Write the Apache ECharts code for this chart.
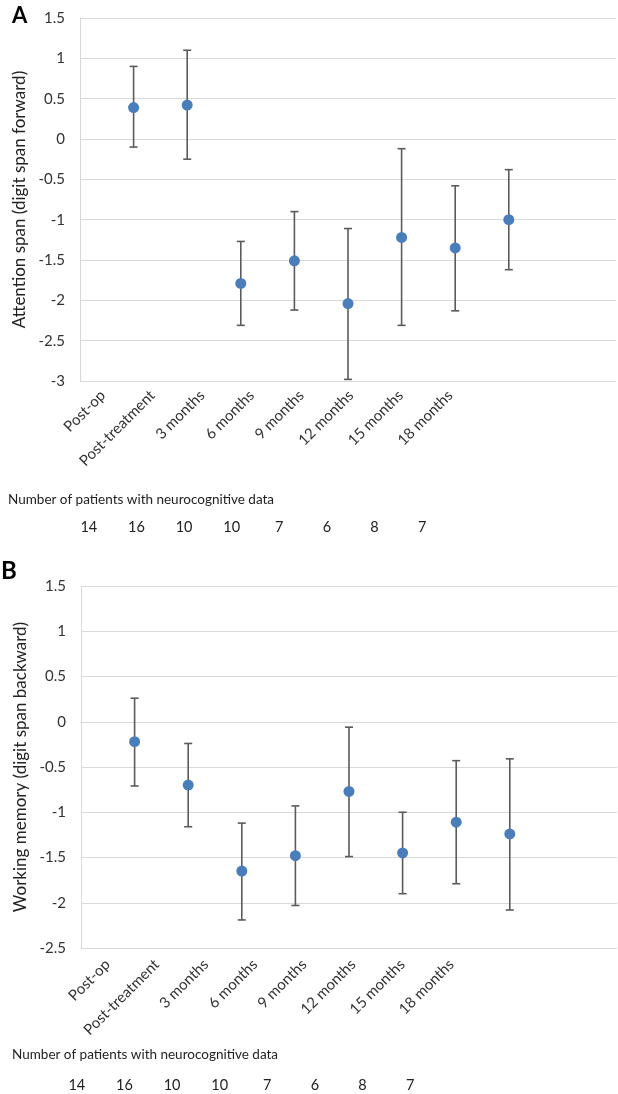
<!DOCTYPE html>
<html>
<head>
<meta charset="utf-8">
<script src="https://cdn.jsdelivr.net/npm/echarts@6/dist/echarts.min.js"></script>
<style>
html,body{margin:0;padding:0;background:#fff;}
#c{width:618px;height:1094px;}
</style>
</head>
<body>
<div id="c"></div>
<script>
// ---- data ----
var categories = ['Post-op', 'Post-treatment', '3 months', '6 months', '9 months', '12 months', '15 months', '18 months'];
var attentionMean  = [0.39, 0.42, -1.79, -1.51, -2.04, -1.22, -1.35, -1.00];
var attentionUpper = [0.90, 1.10, -1.27, -0.90, -1.11, -0.12, -0.58, -0.38];
var attentionLower = [-0.10, -0.25, -2.31, -2.12, -2.98, -2.31, -2.13, -1.62];
var memoryMean  = [-0.22, -0.70, -1.65, -1.48, -0.77, -1.45, -1.11, -1.24];
var memoryUpper = [0.26, -0.24, -1.12, -0.93, -0.06, -1.00, -0.43, -0.41];
var memoryLower = [-0.71, -1.16, -2.19, -2.03, -1.49, -1.90, -1.79, -2.08];
var patientsN = [14, 16, 10, 10, 7, 6, 8, 7];
var yTitleA = 'Attention span (digit span forward)';
var yTitleB = 'Working memory (digit span backward)';
var countsTitle = 'Number of patients with neurocognitive data';

// ---- chart ----
var FONT = 'Lato, "Open Sans", sans-serif';
var paddedCats = [''].concat(categories, ['', '']);
function idxData(arr) { return arr.map(function (v, i) { return [i + 1, v]; }); }
function errData(lo, hi) { return lo.map(function (v, i) { return [i + 1, v, hi[i]]; }); }

function errRender(params, api) {
  var x = api.value(0);
  var lo = api.coord([x, api.value(1)]);
  var hi = api.coord([x, api.value(2)]);
  var cw = 4;
  var st = { stroke: '#5b5b5b', lineWidth: 1.6 };
  return {
    type: 'group',
    children: [
      { type: 'line', shape: { x1: lo[0], y1: lo[1], x2: hi[0], y2: hi[1] }, style: st },
      { type: 'line', shape: { x1: lo[0] - cw, y1: lo[1], x2: lo[0] + cw, y2: lo[1] }, style: st },
      { type: 'line', shape: { x1: hi[0] - cw, y1: hi[1], x2: hi[0] + cw, y2: hi[1] }, style: st }
    ]
  };
}

var chart = echarts.init(document.getElementById('c'), null, { renderer: 'canvas' });

var mainX = function (gi) {
  return {
    type: 'category', gridIndex: gi, data: paddedCats, boundaryGap: false,
    axisLine: { show: true, lineStyle: { color: '#d9d9d9', width: 1 } },
    axisTick: { show: false }, axisLabel: { show: false }, splitLine: { show: false }
  };
};
var labelX = function (gi, margin, fs) {
  return {
    type: 'category', gridIndex: gi, data: categories, boundaryGap: true,
    axisLine: { show: false }, axisTick: { show: false }, splitLine: { show: false },
    axisLabel: { show: true, rotate: 45, margin: margin, interval: 0, color: '#333', fontSize: fs, fontFamily: FONT }
  };
};
var countX = function (gi) {
  return {
    type: 'category', gridIndex: gi, data: patientsN.map(String), boundaryGap: true,
    axisLine: { show: false }, axisTick: { show: false }, splitLine: { show: false },
    axisLabel: { show: true, margin: 4, interval: 0, color: '#222', fontSize: 14.5, fontFamily: FONT }
  };
};
var mainY = function (gi, min, max, name, nameGap, fs, nfs) {
  return {
    type: 'value', gridIndex: gi, min: min, max: max, interval: 0.5,
    name: name, nameLocation: 'middle', nameGap: nameGap,
    nameTextStyle: { color: '#222', fontSize: nfs, fontFamily: FONT },
    axisLine: { show: true, lineStyle: { color: '#d9d9d9', width: 1 } },
    axisTick: { show: false },
    axisLabel: { color: '#333', fontSize: fs, fontFamily: FONT, margin: 15 },
    splitLine: { show: true, lineStyle: { color: '#d9d9d9', width: 1 } }
  };
};
var hiddenY = function (gi) { return { type: 'value', gridIndex: gi, show: false, min: 0, max: 1 }; };

var option = {
  animation: false,
  backgroundColor: '#fff',
  textStyle: { fontFamily: FONT },
  grid: [
    { left: 80, top: 18, width: 536, height: 363 },      // 0 plot A
    { left: 78, top: 18, width: 397, height: 363 },      // 1 labels A
    { left: 65, top: 515, width: 381, height: 1 },       // 2 counts A
    { left: 81, top: 586, width: 536, height: 362 },     // 3 plot B
    { left: 83, top: 586, width: 393, height: 362 },     // 4 labels B
    { left: 53, top: 1073, width: 381, height: 1 }       // 5 counts B
  ],
  xAxis: [mainX(0), labelX(1, 12, 15), countX(2), mainX(3), labelX(4, 14, 15), countX(5)],
  yAxis: [
    mainY(0, -3, 1.5, yTitleA, 44, 15, 17),
    hiddenY(1), hiddenY(2),
    mainY(3, -2.5, 1.5, yTitleB, 46, 15, 17),
    hiddenY(4), hiddenY(5)
  ],
  series: [
    { type: 'custom', xAxisIndex: 0, yAxisIndex: 0, renderItem: errRender, data: errData(attentionLower, attentionUpper), z: 2 },
    { type: 'scatter', xAxisIndex: 0, yAxisIndex: 0, data: idxData(attentionMean), symbolSize: 11,
      itemStyle: { color: '#4a7ebb', opacity: 1 }, z: 3 },
    { type: 'custom', xAxisIndex: 3, yAxisIndex: 3, renderItem: errRender, data: errData(memoryLower, memoryUpper), z: 2 },
    { type: 'scatter', xAxisIndex: 3, yAxisIndex: 3, data: idxData(memoryMean), symbolSize: 11,
      itemStyle: { color: '#4a7ebb', opacity: 1 }, z: 3 }
  ],
  graphic: [
    { type: 'text', left: 12, top: 5, style: { text: 'A', font: 'bold 22px ' + FONT, fill: '#000' } },
    { type: 'text', left: 1, top: 559, style: { text: 'B', font: 'bold 24px ' + FONT, fill: '#000' } },
    { type: 'text', left: 8, top: 493, style: { text: countsTitle, font: '13.5px ' + FONT, fill: '#222' } },
    { type: 'text', left: 12, top: 1048, style: { text: countsTitle, font: '13.5px ' + FONT, fill: '#222' } }
  ]
};
chart.setOption(option);
</script>
</body>
</html>
